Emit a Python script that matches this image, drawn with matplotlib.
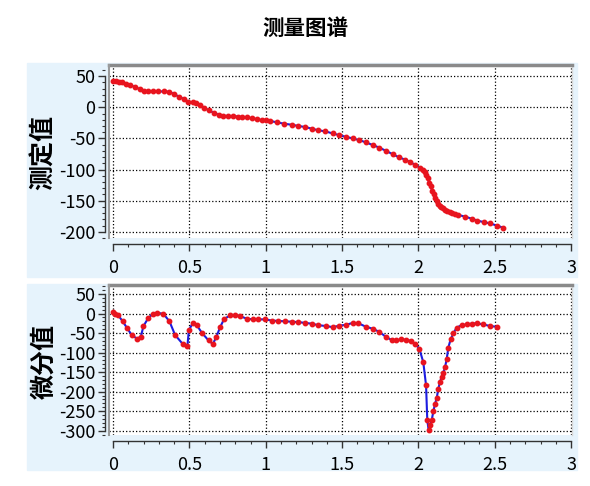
import numpy as np
import matplotlib
matplotlib.use('Agg')
import matplotlib.pyplot as plt
from matplotlib.patches import Rectangle
from matplotlib.ticker import MultipleLocator

plt.rcParams['font.family'] = ['Liberation Sans Narrow', 'Noto Sans CJK SC', 'DejaVu Sans']
plt.rcParams['axes.unicode_minus'] = False

# measured curve (测定值)
meas_x = [0.000, 0.020, 0.040, 0.060, 0.083, 0.111, 0.144, 0.177, 0.205, 0.231,
          0.264, 0.297, 0.336, 0.367, 0.402, 0.432, 0.467, 0.493, 0.520, 0.541,
          0.570, 0.598, 0.629, 0.664, 0.694, 0.723, 0.755, 0.788, 0.821, 0.847,
          0.875, 0.908, 0.941, 0.974, 1.000, 1.028, 1.072, 1.120, 1.170, 1.214,
          1.257, 1.301, 1.345, 1.388, 1.439, 1.482, 1.526, 1.570, 1.613, 1.657,
          1.701, 1.744, 1.788, 1.832, 1.875, 1.912, 1.945, 1.978, 2.010, 2.030,
          2.040, 2.050, 2.060, 2.070, 2.080, 2.090, 2.100, 2.110, 2.120, 2.130,
          2.140, 2.150, 2.160, 2.175, 2.190, 2.205, 2.220, 2.240, 2.262, 2.305,
          2.349, 2.386, 2.430, 2.469, 2.513, 2.556]
meas_y = [42, 41.5, 41, 40, 38, 36, 32.5, 29, 26.5, 25.5,
          25.5, 25.5, 25.5, 25, 21, 17, 13, 9, 8, 7,
          4, -1, -5, -9.5, -12, -13.5, -14, -14, -15, -15.8,
          -16.3, -17.4, -19, -20.5, -21, -22, -24, -26.4, -28, -30,
          -31.6, -34.3, -37, -38.5, -42, -44.8, -47.5, -50, -52.7, -56.4,
          -60.6, -64.8, -70, -75.4, -80.6, -84, -88, -92.3, -97, -101,
          -104, -108, -114, -121, -127, -134, -140, -146, -151, -155,
          -158, -160, -162, -164.5, -166.5, -168, -169.5, -171, -173, -175.6,
          -179, -182, -184.6, -186.5, -190, -193.5]

# derivative curve (微分值)
diff_x = [0.000, 0.012, 0.034, 0.063, 0.089, 0.122, 0.155, 0.181, 0.199, 0.231,
          0.264, 0.290, 0.330, 0.369, 0.406, 0.456, 0.487, 0.496, 0.522, 0.548,
          0.581, 0.625, 0.653, 0.675, 0.701, 0.727, 0.766, 0.799, 0.832, 0.875,
          0.919, 0.952, 0.995, 1.039, 1.083, 1.126, 1.170, 1.213, 1.257, 1.301,
          1.345, 1.395, 1.439, 1.482, 1.526, 1.570, 1.607, 1.657, 1.701, 1.744,
          1.788, 1.825, 1.853, 1.884, 1.919, 1.949, 1.978, 2.006, 2.032, 2.050,
          2.058, 2.067, 2.076, 2.087, 2.098, 2.109, 2.120, 2.130, 2.141, 2.152,
          2.163, 2.174, 2.185, 2.196, 2.211, 2.229, 2.250, 2.283, 2.316, 2.349,
          2.382, 2.425, 2.469, 2.513]
diff_y = [4, 0, -5, -20, -36, -55, -64, -60, -32, -11,
          0, 2, -1, -20, -55, -78, -82, -43, -24, -30,
          -49, -69, -78, -61, -35, -14, -5, -4, -7, -13,
          -15, -15, -15, -18, -19, -20, -21, -22, -24, -26,
          -30, -32, -35, -31, -29, -24, -25, -34, -39, -47,
          -60, -68, -69, -66, -67, -70, -77, -90, -125, -184,
          -273, -299, -286, -273, -250, -231, -216, -193, -176, -162,
          -151, -138, -117, -87, -66, -51, -36, -30, -28, -26,
          -25, -28, -32, -34]

title = '测量图谱'
labels = ['测定值', '微分值']

W, H = 590, 486
fig = plt.figure(figsize=(5.9, 4.86), dpi=100)
fig.patch.set_facecolor('white')

panel_color = '#e6f3fc'
# background panels
fig.patches.append(Rectangle((27 / W, 1 - 277 / H), 550 / W, 214 / H,
                             transform=fig.transFigure, color=panel_color, zorder=-5))
fig.patches.append(Rectangle((27 / W, 1 - 470 / H), 550 / W, 186 / H,
                             transform=fig.transFigure, color=panel_color, zorder=-5))

fig.text(305 / W, 1 - 28 / H, title, ha='center', va='center', fontsize=15.5,
         fontweight='bold', family=['Noto Sans CJK SC', 'DejaVu Sans'])

ax1 = fig.add_axes([109 / W, 1 - 238 / H, 463 / W, 173 / H])
ax2 = fig.add_axes([109 / W, 1 - 435 / H, 463 / W, 150 / H])

setups = [
    (ax1, meas_x, meas_y, (-210, 68), (-200, 50), 152, labels[0]),
    (ax2, diff_x, diff_y, (-311, 73), (-300, 50), 361, labels[1]),
]

for ax, xs, ys, ylim, ybounds, label_y, label in setups:
    ax.set_facecolor('white')
    ax.plot(xs, ys, color='#1c1ce0', lw=1.5, zorder=3)
    ax.plot(xs, ys, 'o', color='#e8141e', ms=3.2, mec='#e8141e', zorder=4)

    ax.set_xlim(-0.027, 3.006)
    ax.set_ylim(*ylim)
    ax.xaxis.set_major_locator(MultipleLocator(0.5))
    ax.xaxis.set_minor_locator(MultipleLocator(0.1))
    ax.yaxis.set_major_locator(MultipleLocator(50))
    ax.yaxis.set_minor_locator(MultipleLocator(10))
    ax.set_xticks([0, 0.5, 1, 1.5, 2, 2.5, 3])
    ax.set_xticklabels(['0', '0.5', '1', '1.5', '2', '2.5', '3'])

    ax.grid(True, which='major', color='black', linestyle=':', lw=0.9)

    ax.spines['left'].set_position(('outward', 3))
    ax.spines['bottom'].set_position(('outward', 4))
    ax.spines['left'].set_bounds(*ybounds)
    ax.spines['bottom'].set_bounds(0, 3)
    for s in ['left', 'bottom']:
        ax.spines[s].set_color('#333333')
        ax.spines[s].set_linewidth(1.0)
    ax.spines['top'].set_color('#8a8a8a')
    ax.spines['top'].set_linewidth(2.5)
    ax.spines['right'].set_color('#d8d8d8')
    ax.spines['right'].set_linewidth(1.0)
    # inner left border of plot area
    ax.plot([0, 0], [0, 1], transform=ax.transAxes, color='#9a9a9a', lw=1.5,
            clip_on=False, zorder=5)

    ax.tick_params(axis='both', which='major', length=5, width=1.0,
                   color='#333333', labelsize=13, pad=2)
    ax.tick_params(axis='both', which='minor', length=2.5, width=0.8,
                   color='#333333')
    ax.tick_params(axis='x', which='major', pad=6)

    fig.text(44 / W, 1 - label_y / H, label, rotation=90, ha='center',
             va='center', fontsize=18, fontweight='bold',
             family=['Noto Sans CJK SC', 'DejaVu Sans'])

fig.savefig('out.png', dpi=100)
